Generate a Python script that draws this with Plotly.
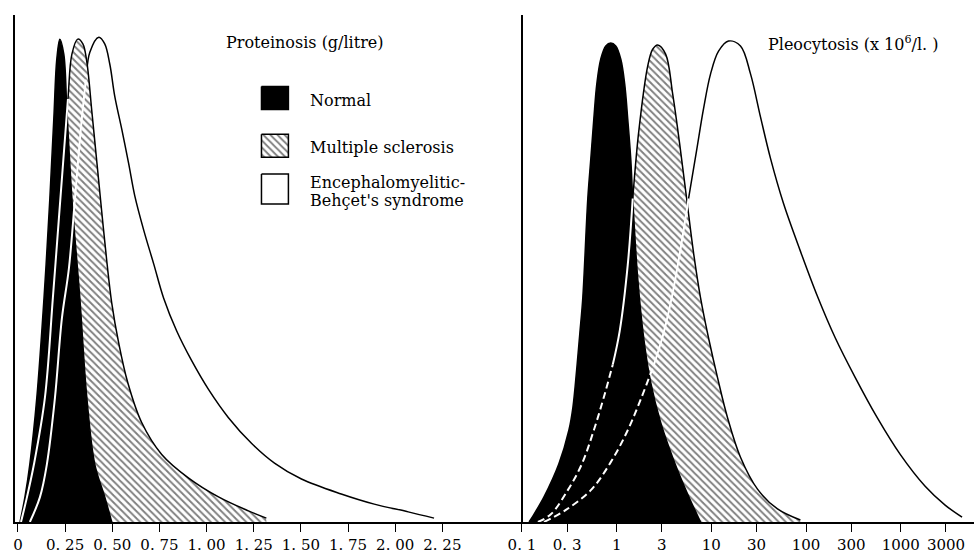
import plotly.graph_objects as go

# ---------------- Proteinosis (g/litre) : left panel ----------------
prot_tickvals = [0, 0.25, 0.5, 0.75, 1.0, 1.25, 1.5, 1.75, 2.0, 2.25]
prot_ticktext = ["0", "0. 25", "0. 50", "0. 75", "1. 00", "1. 25", "1. 50", "1. 75", "2. 00", "2. 25"]

prot_normal_x = [0.011, 0.037, 0.063, 0.10, 0.138, 0.169, 0.19, 0.206, 0.222, 0.243, 0.259, 0.286, 0.328, 0.365, 0.407, 0.46, 0.497]
prot_normal_y = [0, 0.052, 0.120, 0.258, 0.464, 0.670, 0.835, 0.959, 1.0, 0.969, 0.856, 0.670, 0.464, 0.258, 0.120, 0.052, 0]

prot_ms_x = [0.016, 0.048, 0.085, 0.143, 0.185, 0.217, 0.265, 0.286, 0.317,
             0.344, 0.365, 0.392, 0.418, 0.444, 0.471, 0.497, 0.534, 0.582, 0.656, 0.762, 0.905, 1.063, 1.222, 1.317]
prot_ms_y = [0, 0.052, 0.120, 0.258, 0.464, 0.629, 0.876, 0.969, 1.0,
             0.990, 0.953, 0.849, 0.746, 0.643, 0.540, 0.454, 0.371, 0.289, 0.206, 0.140, 0.091, 0.052, 0.023, 0.008]

prot_beh_x = [0.063, 0.116, 0.153, 0.196, 0.233, 0.270, 0.302, 0.333, 0.360, 0.381, 0.429,
              0.460, 0.487, 0.513, 0.550, 0.587, 0.619, 0.667, 0.720, 0.772, 0.841, 0.921, 1.011,
              1.116, 1.238, 1.360, 1.503, 1.714, 1.889, 2.069, 2.206]
prot_beh_y = [0, 0.051, 0.119, 0.257, 0.422, 0.525, 0.669, 0.813, 0.916, 0.973, 1.004,
              0.990, 0.948, 0.882, 0.814, 0.742, 0.676, 0.604, 0.534, 0.464, 0.396, 0.334, 0.274,
              0.216, 0.163, 0.122, 0.089, 0.058, 0.037, 0.021, 0.008]

# ---------------- Pleocytosis (x 10^6/l.) : right panel ----------------
pleo_tickvals = [0.1, 0.3, 1, 3, 10, 30, 100, 300, 1000, 3000]
pleo_ticktext = ["0. 1", "0. 3", "1", "3", "10", "30", "100", "300", "1000", "3000"]

pleo_normal_x = [0.119, 0.134, 0.171, 0.245, 0.313, 0.345, 0.380, 0.409, 0.439, 0.496, 0.534, 0.574, 0.617, 0.680, 0.768, 0.867,
                 0.978, 1.105, 1.217, 1.309, 1.408, 1.478, 1.668, 1.930, 2.288, 2.915, 4.0, 5.61, 7.69]
pleo_normal_y = [0, 0.016, 0.052, 0.120, 0.190, 0.237, 0.320, 0.392, 0.464, 0.670, 0.753, 0.835, 0.907, 0.959, 0.986, 0.992,
                 0.986, 0.959, 0.907, 0.835, 0.753, 0.670, 0.505, 0.381, 0.289, 0.206, 0.128, 0.058, 0]

pleo_ms_x = [0.1475, 0.202, 0.305, 0.429, 0.574, 0.731, 0.910, 1.078, 1.309, 1.478, 1.710, 2.127, 2.40, 2.71,
             3.29, 3.90, 4.62, 5.48, 6.49, 7.69, 9.34, 11.62, 14.82, 20.3, 30.7, 49.9, 87.1]
pleo_ms_y = [0, 0.016, 0.066, 0.120, 0.190, 0.258, 0.326, 0.396, 0.532, 0.670, 0.808, 0.944, 0.979, 0.988,
             0.969, 0.887, 0.784, 0.670, 0.557, 0.464, 0.381, 0.299, 0.216, 0.134, 0.068, 0.027, 0.004]

pleo_beh_x = [0.171, 0.291, 0.534, 0.867, 1.309, 1.795, 2.460, 3.135, 3.90, 4.74, 5.75, 6.98, 8.27, 9.81, 11.91, 15.17,
              20.3, 25.9, 33.0, 42.1, 57.7, 87.1, 131.5, 203.6, 330.7, 564, 986, 1808, 2938, 4436]
pleo_beh_y = [0, 0.025, 0.066, 0.124, 0.190, 0.254, 0.324, 0.392, 0.474, 0.567, 0.670, 0.769, 0.856, 0.928, 0.975, 0.996,
              0.986, 0.928, 0.839, 0.753, 0.660, 0.561, 0.468, 0.381, 0.299, 0.216, 0.140, 0.074, 0.035, 0.010]

legend_labels = ["Normal", "Multiple sclerosis", "Encephalomyelitic-", "Behçet's syndrome"]

FONT = "DejaVu Serif"
W, H = 974, 554
hatch = dict(shape="\\", fgcolor="black", bgcolor="white", size=5, solidity=0.38)
SPL = dict(shape="spline", smoothing=1.0)


def area(x, y, xa, ya, fillcolor, pattern=None):
    kw = dict(x=x, y=y, xaxis=xa, yaxis=ya, mode="lines", fill="tozeroy",
              fillcolor=fillcolor, line=dict(color="black", width=1.5, **SPL),
              hoverinfo="skip", showlegend=False)
    if pattern:
        kw["fillpattern"] = pattern
    return go.Scatter(**kw)


def edge(x, y, xa, ya, dash="solid"):
    return go.Scatter(x=x, y=y, xaxis=xa, yaxis=ya, mode="lines",
                      line=dict(color="white", width=2, dash=dash, **SPL),
                      hoverinfo="skip", showlegend=False)


fig = go.Figure()
# left panel
fig.add_trace(area(prot_beh_x, prot_beh_y, "x", "y", "white"))
fig.add_trace(area(prot_ms_x, prot_ms_y, "x", "y", "white", hatch))
fig.add_trace(area(prot_normal_x, prot_normal_y, "x", "y", "black"))
fig.add_trace(edge(prot_ms_x[:7], prot_ms_y[:7], "x", "y"))
fig.add_trace(edge(prot_beh_x[:9], prot_beh_y[:9], "x", "y"))

# right panel
fig.add_trace(area(pleo_beh_x, pleo_beh_y, "x2", "y2", "white"))
fig.add_trace(area(pleo_ms_x, pleo_ms_y, "x2", "y2", "white", hatch))
fig.add_trace(area(pleo_normal_x, pleo_normal_y, "x2", "y2", "black"))
fig.add_trace(edge(pleo_ms_x[6:10], pleo_ms_y[6:10], "x2", "y2"))
fig.add_trace(edge(pleo_ms_x[:7], pleo_ms_y[:7], "x2", "y2", "7px,4px"))
fig.add_trace(edge(pleo_beh_x[6:11], pleo_beh_y[6:11], "x2", "y2"))
fig.add_trace(edge(pleo_beh_x[:7], pleo_beh_y[:7], "x2", "y2", "7px,4px"))

# legend swatches on a pixel overlay axis
def swatch(x0, y0, x1, y1, fillcolor, pattern=None):
    kw = dict(x=[x0, x1, x1, x0, x0], y=[y0, y0, y1, y1, y0], xaxis="x3", yaxis="y3",
              mode="lines", fill="toself", fillcolor=fillcolor,
              line=dict(color="black", width=1.5), hoverinfo="skip", showlegend=False)
    if pattern:
        kw["fillpattern"] = pattern
    return go.Scatter(**kw)

fig.add_trace(swatch(260, 87, 287, 110, "black"))
fig.add_trace(swatch(260, 135, 287, 158, "white", hatch))
fig.add_trace(swatch(260, 175, 287, 205, "white"))

T, B = 15, 29
plot_h = H - T - B
def py(v):  # pixel row -> paper y
    return (H - B - v) / plot_h

axis_common = dict(showgrid=False, zeroline=False, showline=True, linecolor="black", linewidth=1.5,
                   ticks="outside", ticklen=8, tickwidth=1.2, tickcolor="black",
                   tickfont=dict(family=FONT, size=15, color="black"))

fig.update_layout(
    width=W, height=H, margin=dict(l=0, r=0, t=T, b=B),
    paper_bgcolor="white", plot_bgcolor="rgba(0,0,0,0)", showlegend=False,
    xaxis=dict(domain=[13 / W, 490 / W], range=[-0.0159, 2.508], anchor="y",
               tickmode="array", tickvals=prot_tickvals, ticktext=prot_ticktext, **axis_common),
    yaxis=dict(domain=[0, 1], range=[0, 1.05], anchor="x", showgrid=False, zeroline=False,
               showline=True, linecolor="black", linewidth=1.5, showticklabels=False, ticks=""),
    xaxis2=dict(domain=[490 / W, 1], type="log", range=[-1.3267, 3.773], anchor="y2",
                tickmode="array", tickvals=pleo_tickvals, ticktext=pleo_ticktext, **axis_common),
    yaxis2=dict(domain=[0, 1], range=[0, 1.05], anchor="free", position=521 / W, showgrid=False,
                zeroline=False, showline=True, linecolor="black", linewidth=1.5,
                showticklabels=False, ticks=""),
    xaxis3=dict(domain=[0, 1], range=[0, W], anchor="y3", visible=False, fixedrange=True),
    yaxis3=dict(domain=[0, 1], range=[H - B, T], anchor="x3", visible=False, fixedrange=True),
    font=dict(family=FONT, size=16, color="black"),
)

ann = dict(xref="paper", yref="paper", showarrow=False, xanchor="left", yanchor="middle",
           font=dict(family=FONT, size=16, color="black"))
fig.add_annotation(text="Proteinosis (g/litre)", x=222 / W, y=py(43), **ann)
fig.add_annotation(text="Pleocytosis (x 10<sup>6</sup>/l. )", x=766 / W, y=py(44), **ann)
fig.add_annotation(text=legend_labels[0], x=307 / W, y=py(101), **ann)
fig.add_annotation(text=legend_labels[1], x=307 / W, y=py(148), **ann)
fig.add_annotation(text=legend_labels[2], x=307 / W, y=py(183), **ann)
fig.add_annotation(text=legend_labels[3], x=307 / W, y=py(202), **ann)

fig.write_html("out.html")
